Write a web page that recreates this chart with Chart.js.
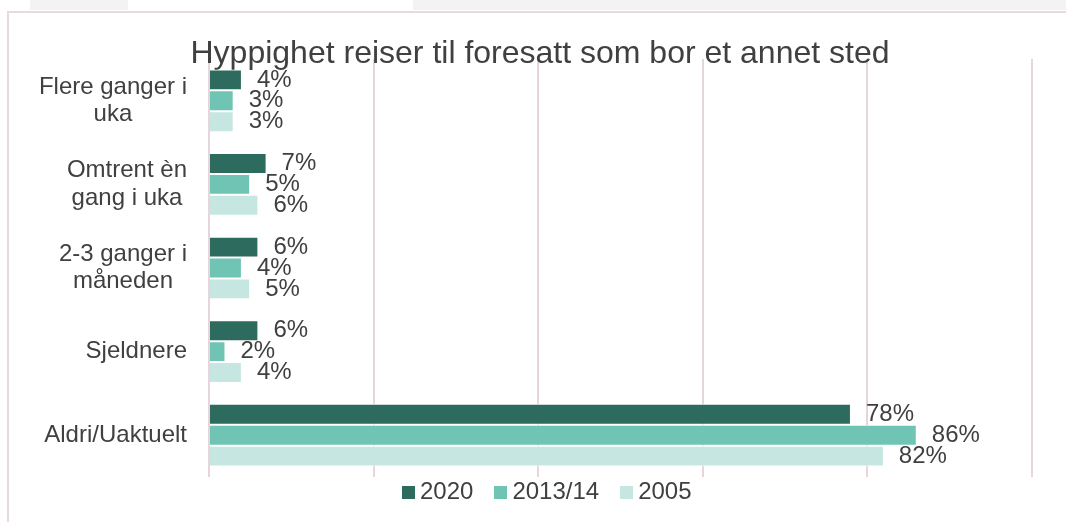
<!DOCTYPE html>
<html lang="no">
<head>
<meta charset="utf-8">
<title>Hyppighet reiser til foresatt</title>
<script src="https://cdn.jsdelivr.net/npm/chart.js@4.4.1/dist/chart.umd.min.js"></script>
<style>
  body { margin: 0; background: #fff; font-family: "Liberation Sans", Arial, sans-serif; }
  #wrap { position: relative; width: 1066px; height: 522px; overflow: hidden; }
  .tabs { position: absolute; left: 30px; right: 0; top: 0; height: 10px; background: #f3f3f3; }
  .tab-active { position: absolute; left: 128px; width: 285px; top: 0; height: 11px; background: #fff; }
  .frame { position: absolute; left: 7px; top: 11px; right: -4px; bottom: -4px;
           border-left: 2px solid #e6dadd; border-top: 2px solid #e6dadd; }
  canvas { position: absolute; left: 0; top: 0; }
  #legend { position: absolute; left: 402px; top: 478px; display: flex; align-items: center;
            font-size: 24px; line-height: 26px; color: #404040; }
  #legend .item { display: flex; align-items: center; margin-right: 21px; }
  #legend .box { width: 13px; height: 13px; margin-right: 5px; margin-top: 2px; }
</style>
</head>
<body>
<div id="wrap">
  <div class="tabs"></div>
  <div class="tab-active"></div>
  <div class="frame"></div>
  <canvas id="travelChart" width="1066" height="522"></canvas>
  <div id="legend"></div>
</div>
<script>
// categories (multi-line labels as arrays)
const categories = [
  ['Flere ganger i', 'uka'],
  ['Omtrent èn', 'gang i uka'],
  ['2-3 ganger i', 'måneden'],
  'Sjeldnere',
  'Aldri/Uaktuelt'
];

// percent per survey year
const series2020 = [4, 7, 6, 6, 78];
const series2013 = [3, 5, 4, 2, 86];
const series2005 = [3, 6, 5, 4, 82];

const seriesNames = ['2020', '2013/14', '2005'];
const xTicks = [0, 20, 40, 60, 80, 100];

const textColor = '#404040';
const gridColor = '#e6d6db';
const fontFamily = '"Liberation Sans", Arial, sans-serif';

// value labels right of each bar
const barLabels = {
  id: 'barLabels',
  afterDatasetsDraw(chart) {
    const ctx = chart.ctx;
    ctx.save();
    ctx.font = '24px ' + fontFamily;
    ctx.fillStyle = textColor;
    ctx.textAlign = 'left';
    ctx.textBaseline = 'middle';
    chart.data.datasets.forEach((ds, i) => {
      chart.getDatasetMeta(i).data.forEach((bar, j) => {
        ctx.fillText(ds.data[j] + '%', bar.x + 15, bar.y);
      });
    });
    ctx.restore();
  }
};

// category labels: block right-aligned to the axis, lines centered inside the block
const categoryLabels = {
  id: 'categoryLabels',
  afterDraw(chart) {
    const ctx = chart.ctx;
    const yScale = chart.scales.y;
    const right = chart.chartArea.left - 22;
    const lineHeight = 27.7;
    ctx.save();
    ctx.font = '24px ' + fontFamily;
    ctx.fillStyle = textColor;
    ctx.textAlign = 'center';
    ctx.textBaseline = 'middle';
    chart.data.labels.forEach((label, i) => {
      const lines = [].concat(label);
      const blockWidth = Math.max(...lines.map(l => ctx.measureText(l).width));
      const cx = right - blockWidth / 2;
      const cy = yScale.getPixelForValue(i);
      lines.forEach((line, k) => {
        ctx.fillText(line, cx, cy + (k - (lines.length - 1) / 2) * lineHeight);
      });
    });
    ctx.restore();
  }
};

const ctx = document.getElementById('travelChart').getContext('2d');
const chart = new Chart(ctx, {
  type: 'bar',
  data: {
    labels: categories,
    datasets: [
      { label: seriesNames[0], data: series2020, backgroundColor: '#2e6b5f' },
      { label: seriesNames[1], data: series2013, backgroundColor: '#70c4b4' },
      { label: seriesNames[2], data: series2005, backgroundColor: '#c6e7e1' }
    ]
  },
  options: {
    indexAxis: 'y',
    responsive: false,
    animation: false,
    devicePixelRatio: 1,
    categoryPercentage: 0.75,
    barPercentage: 1,
    borderWidth: 1,
    borderColor: '#ffffff',
    layout: { padding: { top: 0, left: 48, right: 34, bottom: 45 } },
    scales: {
      x: {
        min: xTicks[0],
        max: xTicks[xTicks.length - 1],
        afterBuildTicks: scale => { scale.ticks = xTicks.map(v => ({ value: v })); },
        ticks: { display: false },
        grid: { color: gridColor, lineWidth: 2, drawTicks: false },
        border: { display: false }
      },
      y: {
        ticks: { display: false },
        grid: { display: false, drawTicks: false },
        border: { display: false },
        afterFit: scale => { scale.width = 161; }
      }
    },
    plugins: {
      legend: { display: false },
      tooltip: { enabled: false },
      title: {
        display: true,
        text: 'Hyppighet reiser til foresatt som bor et annet sted',
        color: textColor,
        font: { family: fontFamily, size: 32, weight: 'normal', lineHeight: 1 },
        padding: { top: 38, bottom: -11 }
      }
    }
  },
  plugins: [barLabels, categoryLabels]
});

// legend built from the datasets
const legend = document.getElementById('legend');
chart.data.datasets.forEach(ds => {
  const item = document.createElement('div');
  item.className = 'item';
  const box = document.createElement('span');
  box.className = 'box';
  box.style.background = ds.backgroundColor;
  const text = document.createElement('span');
  text.textContent = ds.label;
  item.appendChild(box);
  item.appendChild(text);
  legend.appendChild(item);
});
</script>
</body>
</html>
